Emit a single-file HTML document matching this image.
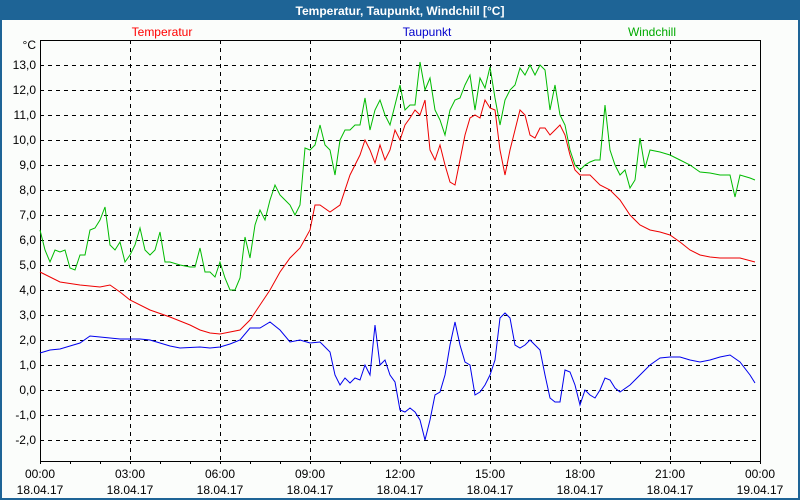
<!DOCTYPE html>
<html><head><meta charset="utf-8"><style>
body{margin:0;background:#fbfdfb}
svg{display:block;font-family:"Liberation Sans",sans-serif}
</style></head><body>
<svg width="800" height="500" viewBox="0 0 800 500">
<rect x="0" y="0" width="800" height="500" fill="#fbfdfb"/>
<rect x="0" y="0" width="800" height="20" fill="#1e6496"/>
<rect x="0" y="0" width="2" height="500" fill="#1e6496"/>
<rect x="798" y="0" width="2" height="500" fill="#1e6496"/>
<rect x="0" y="498" width="800" height="2" fill="#1e6496"/>
<text x="400" y="15" text-anchor="middle" font-size="12" font-weight="bold" fill="#fff">Temperatur, Taupunkt, Windchill [°C]</text>
<text x="162" y="36" text-anchor="middle" font-size="12" fill="#f00">Temperatur</text>
<text x="427" y="36" text-anchor="middle" font-size="12" fill="#00c">Taupunkt</text>
<text x="652" y="36" text-anchor="middle" font-size="12" fill="#0a0">Windchill</text>
<g stroke="#000" stroke-width="1" stroke-dasharray="4,4" shape-rendering="crispEdges">
<path d="M40 65.5H760M40 90.5H760M40 115.5H760M40 140.5H760M40 165.5H760M40 190.5H760M40 215.5H760M40 240.5H760M40 265.5H760M40 290.5H760M40 315.5H760M40 340.5H760M40 365.5H760M40 390.5H760M40 415.5H760M40 440.5H760"/>
<path d="M130.5 40V461M220.5 40V461M310.5 40V461M400.5 40V461M490.5 40V461M580.5 40V461M670.5 40V461"/>
</g>
<rect x="40.5" y="40.5" width="720" height="421" fill="none" stroke="#000" shape-rendering="crispEdges"/>
<g stroke="#000" shape-rendering="crispEdges">
<path d="M70.5 461v3M100.5 461v3M130.5 461v3M160.5 461v3M190.5 461v3M220.5 461v3M250.5 461v3M280.5 461v3M310.5 461v3M340.5 461v3M370.5 461v3M400.5 461v3M430.5 461v3M460.5 461v3M490.5 461v3M520.5 461v3M550.5 461v3M580.5 461v3M610.5 461v3M640.5 461v3M670.5 461v3M700.5 461v3M730.5 461v3M40.5 461v3M760.5 461v3"/>
</g>
<g font-size="12" fill="#000" text-anchor="end">
<text x="36" y="49">°C</text>
<text x="36" y="69">13,0</text><text x="36" y="94">12,0</text><text x="36" y="119">11,0</text><text x="36" y="144">10,0</text>
<text x="36" y="169">9,0</text><text x="36" y="194">8,0</text><text x="36" y="219">7,0</text><text x="36" y="244">6,0</text>
<text x="36" y="269">5,0</text><text x="36" y="294">4,0</text><text x="36" y="319">3,0</text><text x="36" y="344">2,0</text>
<text x="36" y="369">1,0</text><text x="36" y="394">0,0</text><text x="36" y="419">-1,0</text><text x="36" y="444">-2,0</text>
</g>
<g font-size="12" fill="#000" text-anchor="middle">
<text x="40" y="478">00:00</text><text x="40" y="494">18.04.17</text>
<text x="130" y="478">03:00</text><text x="130" y="494">18.04.17</text>
<text x="220" y="478">06:00</text><text x="220" y="494">18.04.17</text>
<text x="310" y="478">09:00</text><text x="310" y="494">18.04.17</text>
<text x="400" y="478">12:00</text><text x="400" y="494">18.04.17</text>
<text x="490" y="478">15:00</text><text x="490" y="494">18.04.17</text>
<text x="580" y="478">18:00</text><text x="580" y="494">18.04.17</text>
<text x="670" y="478">21:00</text><text x="670" y="494">18.04.17</text>
<text x="760" y="478">00:00</text><text x="760" y="494">19.04.17</text>
</g>
<g fill="none" stroke-width="1">
<polyline stroke="#e00" points="40,272 60,282 80,285 100,287 110,285 120,292 130,300 150,310 170,317 190,325 200,330 210,333 220,334 240,330 250,320 260,305 270,290 280,272 290,258 300,248 310,230 315,205 320,205 330,212 340,205 350,175 360,155 365,140 370,150 375,163 380,145 385,160 390,150 395,130 400,140 405,125 410,118 415,110 420,115 425,100 430,150 435,160 440,145 445,165 450,182 455,185 460,160 465,135 470,118 475,115 480,118 485,100 490,108 495,110 500,150 505,175 510,150 515,130 520,110 525,115 530,135 535,138 540,128 545,128 550,135 555,130 560,125 565,135 570,155 575,170 580,175 590,175 600,185 610,190 620,200 630,215 640,225 650,230 660,232 670,235 680,242 690,250 700,255 710,257 720,258 740,258 755,262"/>
<polyline stroke="#00e" points="40,353 50,350 60,349 70,346 80,343 90,336 100,337 110,338 120,339 140,339 150,340 160,343 170,346 180,348 200,347 210,348 220,347 230,344 240,340 250,328 260,328 270,322 280,330 290,342 300,340 310,343 320,342 330,352 335,375 340,385 345,378 350,383 355,378 360,380 365,365 370,375 375,325 380,365 385,360 390,375 395,382 400,410 405,412 410,408 415,412 420,420 425,440 430,420 435,395 440,392 445,375 450,345 455,322 460,345 465,362 470,365 475,395 480,392 485,385 490,375 495,360 500,318 505,313 510,318 515,345 520,348 525,345 530,340 535,345 540,350 545,375 550,398 555,402 560,402 565,370 570,372 575,385 580,405 585,390 590,395 595,398 600,390 605,378 610,380 615,388 620,392 630,385 640,375 650,365 660,358 670,357 680,357 690,360 700,362 710,360 720,357 730,355 740,362 750,375 755,383"/>
<polyline stroke="#0b0" points="40,230 45,250 50,262 55,250 60,252 65,250 70,268 75,270 80,255 85,255 90,230 95,228 100,220 105,207 110,245 115,250 120,242 125,262 130,255 135,245 140,228 145,250 150,255 155,250 160,232 165,262 170,262 180,265 190,267 195,267 200,248 205,272 210,272 215,277 220,262 225,278 230,290 235,290 240,278 245,237 250,258 255,225 260,210 265,220 270,200 275,185 280,195 285,200 290,205 295,215 300,205 305,148 310,150 315,145 320,125 325,145 330,150 335,175 340,140 345,130 350,130 355,125 360,125 365,98 370,130 375,110 380,100 385,115 390,125 395,105 400,85 405,110 410,105 415,105 420,62 425,90 430,78 435,110 440,120 445,135 450,110 455,100 460,98 465,85 470,75 475,110 480,78 485,88 490,67 495,98 500,125 505,100 510,90 515,85 520,68 525,75 530,65 535,75 540,65 545,70 550,110 555,85 560,115 565,125 570,150 575,165 580,170 585,165 590,162 595,160 600,160 605,105 610,150 615,165 620,175 625,170 630,188 635,180 640,138 645,168 650,150 660,152 670,155 680,160 690,165 700,172 710,173 720,175 730,175 735,197 740,175 750,178 755,180"/>
</g>
</svg>
</body></html>
